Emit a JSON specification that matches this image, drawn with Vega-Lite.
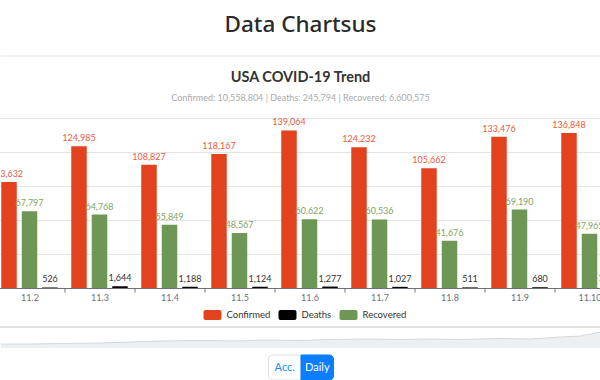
{
  "$schema": "https://vega.github.io/schema/vega-lite/v6.json",
  "padding": {"left": -6.5, "right": 0, "top": 13, "bottom": 0},
  "background": "white",
  "spacing": 6,
  "resolve": {"legend": {"color": "independent"}, "scale": {"x": "independent", "y": "independent", "color": "independent"}},
  "config": {
    "font": "Lato",
    "view": {"stroke": null},
    "title": {"anchor": "middle", "frame": "group"}
  },
  "vconcat": [
    {
      "title": {"text": "Data Chartsus", "font": "Noto Sans", "fontSize": 22.5, "fontWeight": 500, "color": "#2a2a2a", "offset": 19.5},
      "width": 600,
      "height": 6.5,
      "data": {"values": [{"pos": 1}]},
      "mark": {"type": "rule", "color": "#e3e3e3", "strokeWidth": 1},
      "encoding": {
        "y": {"field": "pos", "type": "quantitative", "scale": {"domain": [0, 1]}, "axis": null}
      }
    },
    {
      "title": {
        "text": "USA COVID-19 Trend",
        "subtitle": "Confirmed: 10,558,804 | Deaths: 245,794 | Recovered: 6,600,575",
        "fontSize": 14.5,
        "fontWeight": "bold",
        "color": "#333333",
        "subtitleColor": "#aaaaaa",
        "subtitleFontSize": 9,
        "subtitlePadding": 9,
        "offset": 14
      },
      "width": 600,
      "height": 170,
      "data": {
        "values": [
          {"date": "11.2", "type": "Confirmed", "value": 93632},
          {"date": "11.2", "type": "Recovered", "value": 67797},
          {"date": "11.2", "type": "Deaths", "value": 526},
          {"date": "11.3", "type": "Confirmed", "value": 124985},
          {"date": "11.3", "type": "Recovered", "value": 64768},
          {"date": "11.3", "type": "Deaths", "value": 1644},
          {"date": "11.4", "type": "Confirmed", "value": 108827},
          {"date": "11.4", "type": "Recovered", "value": 55849},
          {"date": "11.4", "type": "Deaths", "value": 1188},
          {"date": "11.5", "type": "Confirmed", "value": 118167},
          {"date": "11.5", "type": "Recovered", "value": 48567},
          {"date": "11.5", "type": "Deaths", "value": 1124},
          {"date": "11.6", "type": "Confirmed", "value": 139064},
          {"date": "11.6", "type": "Recovered", "value": 60622},
          {"date": "11.6", "type": "Deaths", "value": 1277},
          {"date": "11.7", "type": "Confirmed", "value": 124232},
          {"date": "11.7", "type": "Recovered", "value": 60536},
          {"date": "11.7", "type": "Deaths", "value": 1027},
          {"date": "11.8", "type": "Confirmed", "value": 105662},
          {"date": "11.8", "type": "Recovered", "value": 41676},
          {"date": "11.8", "type": "Deaths", "value": 511},
          {"date": "11.9", "type": "Confirmed", "value": 133476},
          {"date": "11.9", "type": "Recovered", "value": 69190},
          {"date": "11.9", "type": "Deaths", "value": 680},
          {"date": "11.10", "type": "Confirmed", "value": 136848},
          {"date": "11.10", "type": "Recovered", "value": 47965},
          {"date": "11.10", "type": "Deaths", "value": 1420}
        ]
      },
      "encoding": {
        "x": {
          "field": "date",
          "type": "nominal",
          "sort": null,
          "scale": {"range": [-6, 624], "paddingInner": 0, "paddingOuter": 0},
          "axis": {
            "title": null,
            "labelAngle": 0,
            "labelColor": "#6e7079",
            "labelFontSize": 9,
            "labelPadding": 1,
            "domain": false,
            "tickColor": "#6e7079",
            "tickSize": 4,
            "tickBand": "extent",
            "tickExtra": false,
            "grid": false
          }
        },
        "xOffset": {
          "field": "type",
          "type": "nominal",
          "sort": ["Confirmed", "Recovered", "Deaths"],
          "scale": {"paddingInner": 0.244, "paddingOuter": 0.33}
        },
        "y": {
          "field": "value",
          "type": "quantitative",
          "scale": {"domain": [0, 150000], "nice": false},
          "axis": {
            "title": null,
            "labels": false,
            "ticks": false,
            "domain": false,
            "grid": true,
            "values": [0, 30000, 60000, 90000, 120000, 150000],
            "gridColor": {"condition": {"test": "datum.value === 0", "value": "#6e7079"}, "value": "#e4e4e4"}
          }
        }
      },
      "layer": [
        {
          "mark": {"type": "bar", "clip": true},
          "encoding": {
            "color": {
              "field": "type",
              "type": "nominal",
              "scale": {"domain": ["Confirmed", "Deaths", "Recovered"], "range": ["#e2431e", "#000000", "#6e9654"]},
              "legend": {
                "orient": "none",
                "legendX": 207,
                "legendY": 192,
                "direction": "horizontal",
                "title": null,
                "symbolType": "M-1.4,-1L1.4,-1Q1.8,-1,1.8,-0.6L1.8,0.6Q1.8,1,1.4,1L-1.4,1Q-1.8,1,-1.8,0.6L-1.8,-0.6Q-1.8,-1,-1.4,-1Z",
                "symbolSize": 100,
                "symbolStrokeWidth": 0,
                "symbolOpacity": 1,
                "labelFontSize": 9.5,
                "labelColor": "#333333",
                "labelOffset": 9,
                "columnPadding": 8
              }
            }
          }
        },
        {
          "mark": {"type": "text", "clip": true, "baseline": "bottom", "dy": -3, "fontSize": 9},
          "encoding": {
            "text": {"field": "value", "type": "quantitative", "format": ","},
            "fill": {
              "field": "type",
              "type": "nominal",
              "scale": {"domain": ["Confirmed", "Deaths", "Recovered"], "range": ["#ec5a3c", "#333333", "#80a463"]},
              "legend": null
            }
          }
        }
      ]
    },
    {
      "width": 600,
      "height": 21,
      "data": {
        "values": [
          {"i": 0, "v": 4}, {"i": 30, "v": 4}, {"i": 60, "v": 4.5}, {"i": 100, "v": 5},
          {"i": 130, "v": 6}, {"i": 160, "v": 7}, {"i": 200, "v": 7.5}, {"i": 240, "v": 7},
          {"i": 260, "v": 8}, {"i": 300, "v": 7.5}, {"i": 330, "v": 8.5}, {"i": 370, "v": 9},
          {"i": 400, "v": 8.5}, {"i": 430, "v": 9}, {"i": 460, "v": 8.5}, {"i": 500, "v": 9.5},
          {"i": 530, "v": 9}, {"i": 560, "v": 11}, {"i": 580, "v": 12}, {"i": 600, "v": 16}
        ]
      },
      "encoding": {
        "x": {"field": "i", "type": "quantitative", "scale": {"domain": [0, 600], "nice": false, "zero": false}, "axis": null},
        "y": {"field": "v", "type": "quantitative", "scale": {"domain": [0, 21], "nice": false}, "axis": null}
      },
      "layer": [
        {
          "mark": {"type": "area", "color": "#e6e9ee", "line": {"color": "#d3d7dd", "strokeWidth": 1}, "clip": true}
        },
        {
          "mark": {"type": "rule", "color": "#e2e2e2", "strokeWidth": 1},
          "encoding": {"x": null, "y": {"datum": 21}}
        }
      ]
    },
    {
      "width": 600,
      "height": 25,
      "data": {"values": [{"label": "Acc."}, {"label": "Daily"}]},
      "encoding": {
        "x": {"field": "label", "type": "nominal", "sort": null, "scale": {"range": [268, 333], "paddingInner": 0, "paddingOuter": 0}, "axis": null}
      },
      "layer": [
        {
          "transform": [{"filter": "datum.label === 'Acc.'"}],
          "mark": {"type": "rect", "fill": "#ffffff", "stroke": "#dcdfe3", "cornerRadiusTopLeft": 4, "cornerRadiusBottomLeft": 4}
        },
        {
          "transform": [{"filter": "datum.label === 'Daily'"}],
          "mark": {"type": "rect", "fill": "#0b7dfd", "stroke": "#0b7dfd", "cornerRadiusTopRight": 4, "cornerRadiusBottomRight": 4}
        },
        {
          "transform": [{"filter": "datum.label === 'Acc.'"}],
          "mark": {"type": "text", "fontSize": 11, "color": "#1a8cff"},
          "encoding": {"text": {"field": "label"}}
        },
        {
          "transform": [{"filter": "datum.label === 'Daily'"}],
          "mark": {"type": "text", "fontSize": 11, "color": "#ffffff"},
          "encoding": {"text": {"field": "label"}}
        }
      ]
    }
  ]
}
